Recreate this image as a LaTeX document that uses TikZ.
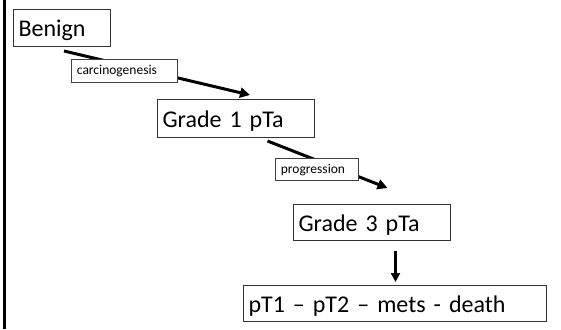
\documentclass[tikz,border=0pt]{standalone}
\usepackage{fontspec}
\setmainfont{Carlito}
\usetikzlibrary{arrows.meta,calc,backgrounds}
\tikzset{
  bigbox/.style={draw=black!80, line width=1pt, fill=white, anchor=north west,
    inner xsep=5pt, inner ysep=0pt, text height=18.5pt, text depth=1.5pt,
    align=left, font=\fontsize{24}{28}\selectfont},
  lblbox/.style={draw=black!75, line width=0.8pt, fill=white, anchor=north west,
    inner xsep=5.5pt, inner ysep=0pt, text height=10pt, text depth=2pt,
    align=left, font=\fontsize{13.5}{16}\selectfont},
  flow/.style={line width=3pt, -{Triangle[length=10pt,width=10pt]}},
}
\begin{document}
\begin{tikzpicture}[x=1pt,y=-1pt]
\useasboundingbox (0,0) rectangle (561,329);
\draw[line width=3pt] (4.5,0) -- (4.5,329);

\node[bigbox, text width=87pt, minimum height=37pt] (benign) at (13,9) {Benign};
\node[bigbox, text width=147pt, minimum height=38pt] (g1) at (157,99) {Grade 1 pTa};
\node[bigbox, text width=147pt, minimum height=36pt] (g3) at (293,204) {Grade 3 pTa};
\node[bigbox, text width=293pt, minimum height=36pt] (pt) at (243,285) {pT1 – pT2 – mets - death};
\node[lblbox, text width=95pt, minimum height=23pt] (carc) at (71,59) {carcinogenesis};
\node[lblbox, text width=72pt, minimum height=22pt] (prog) at (275,158) {progression};

\begin{scope}[on background layer]
\fill[white] (0,0) rectangle (561,329);
\draw[flow] ($(benign.south)+(2,4)$) -- ($(g1.north)+(14,-4)$);
\draw[flow] ($(g1.south)+(31.5,3)$) -- ($(g3.north)+(15.5,-16)$);
\end{scope}
\draw[line width=2.5pt, -{Triangle[length=9pt,width=9pt]}] ($(g3.south)+(23.5,10)$) -- ($(pt.north)+(0.5,-3)$);
\end{tikzpicture}
\end{document}
